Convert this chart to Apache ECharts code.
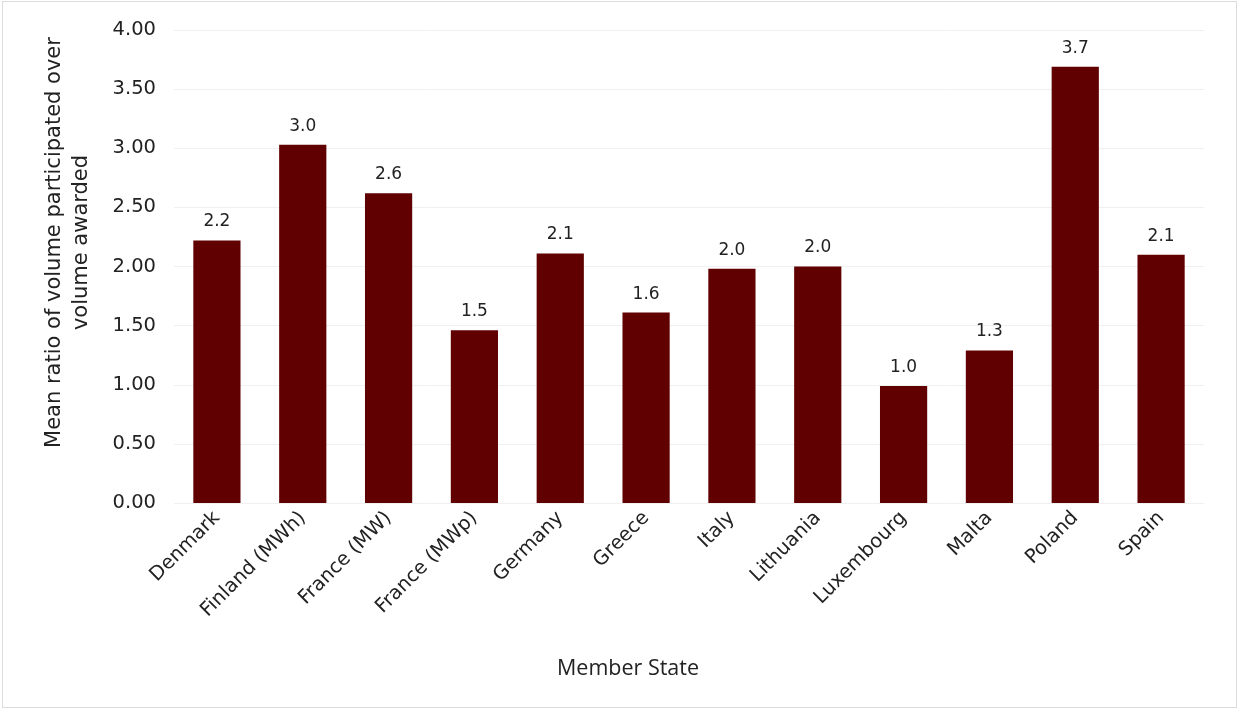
<!DOCTYPE html>
<html><head><meta charset="utf-8">
<script src="https://cdn.jsdelivr.net/npm/echarts@6/dist/echarts.min.js"></script>
<style>
html,body{margin:0;padding:0;background:#fff;}
#frame{position:absolute;left:2px;top:1px;width:1235px;height:707px;border:1px solid #dcdcdc;box-sizing:border-box;}
#c{position:absolute;left:0;top:0;width:1239px;height:710px;}
</style></head>
<body><div id="frame"></div><div id="c"></div>
<script>
const categories = ["Denmark","Finland (MWh)","France (MW)","France (MWp)","Germany","Greece","Italy","Lithuania","Luxembourg","Malta","Poland","Spain"];
const values = [2.22, 3.03, 2.62, 1.46, 2.11, 1.61, 1.98, 2.00, 0.99, 1.29, 3.69, 2.10];
const yTicks = [0, 0.5, 1, 1.5, 2, 2.5, 3, 3.5, 4];
const font = "'DejaVu Sans', sans-serif";
const chart = echarts.init(document.getElementById('c'));
chart.setOption({
  animation:false,
  grid:{left:174,right:35,top:30,bottom:207,containLabel:false},
  xAxis:{type:'category',data:categories,
    axisLine:{show:false},axisTick:{show:false},
    axisLabel:{rotate:45,fontSize:19.5,color:'#222',fontFamily:font,margin:12,interval:0},
    name:'Member State',nameLocation:'middle',nameGap:155,
    nameTextStyle:{fontSize:21.5,color:'#222',fontFamily:"'Open Sans', 'DejaVu Sans', sans-serif",padding:[0,122,0,0]}},
  yAxis:{type:'value',min:yTicks[0],max:yTicks[yTicks.length-1],interval:0.5,
    axisLine:{show:false},axisTick:{show:false},
    splitLine:{lineStyle:{color:'#f0f0f0',width:1}},
    axisLabel:{fontSize:19.5,color:'#222',fontFamily:font,margin:18,formatter:v=>v.toFixed(2)},
    name:'Mean ratio of volume participated over\nvolume awarded',nameLocation:'middle',nameGap:79,
    nameTextStyle:{fontSize:21,color:'#222',fontFamily:font,lineHeight:27,padding:[0,0,0,48]}},
  series:[{type:'bar',data:values,barWidth:'55%',
    itemStyle:{color:'#600000'},
    label:{show:true,position:'top',distance:10,fontSize:17,color:'#222',fontFamily:font,formatter:p=>p.value.toFixed(1)}}]
});
</script></body></html>
